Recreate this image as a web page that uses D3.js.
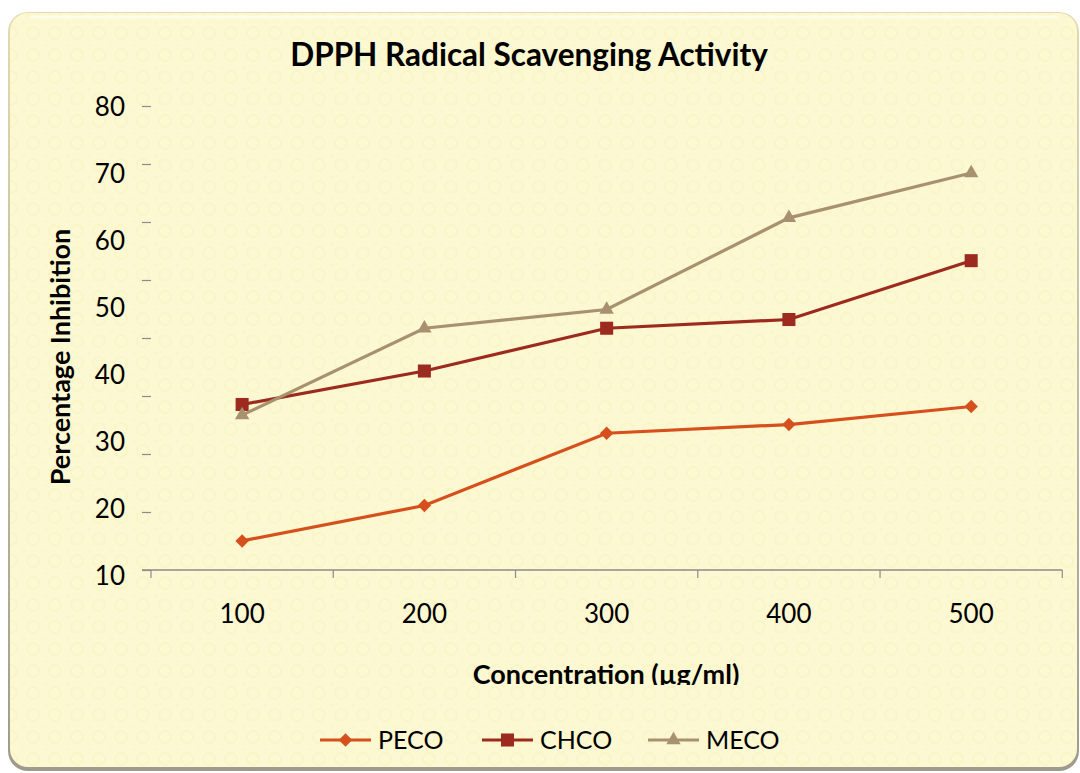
<!DOCTYPE html>
<meta charset="utf-8">
<style>
  body { margin: 0; background: #fff; }
  text { font-family: Lato, "Open Sans", sans-serif; fill: #000; }
  .title { font-size: 31.5px; font-weight: 700; }
  .axis-title { font-size: 27px; font-weight: 700; }
  .tick-label { font-size: 26px; }
  .legend-label { font-size: 25px; }
</style>
<body>
<script src="https://d3js.org/d3.v7.min.js"></script>
<script>

// data
var categories = ["100", "200", "300", "400", "500"];
var peco = [15.2, 20.5, 31.3, 32.6, 35.3];
var chco = [35.6, 40.6, 47.0, 48.3, 57.1];
var meco = [34.0, 47.0, 49.8, 63.5, 70.2];
var yLabels = [10, 20, 30, 40, 50, 60, 70, 80];
var yMarks = [0, 10, 20, 30, 40, 50, 60, 70, 80];
var seriesNames = ["PECO", "CHCO", "MECO"];

var width = 1080,
    height = 773;

var svg = d3.select("body").append("svg")
    .attr("width", width)
    .attr("height", height);

var defs = svg.append("defs");

// faint dotted texture of the chart area
var pat = defs.append("pattern")
    .attr("id", "dots")
    .attr("width", 22).attr("height", 22)
    .attr("patternUnits", "userSpaceOnUse");
pat.append("rect").attr("width", 22).attr("height", 22).attr("fill", "#fcf8d1");
pat.append("circle").attr("cx", 11).attr("cy", 11).attr("r", 6)
    .attr("fill", "none").attr("stroke", "#f6edb6").attr("stroke-width", 2).attr("opacity", 0.3);
pat.append("circle").attr("cx", 0).attr("cy", 0).attr("r", 3).attr("fill", "#f8f0c0").attr("opacity", 0.3);

var edge = defs.append("linearGradient")
    .attr("id", "edge").attr("x1", 0).attr("y1", 0).attr("x2", 0).attr("y2", 1);
edge.append("stop").attr("offset", "0%").attr("stop-color", "#e2dab0");
edge.append("stop").attr("offset", "100%").attr("stop-color", "#9e9b8c");

defs.append("clipPath").attr("id", "xtitle-clip")
  .append("rect").attr("x", 0).attr("y", 0).attr("width", width).attr("height", 685);

// card
svg.append("rect")
    .attr("x", 8).attr("y", 12)
    .attr("width", 1071).attr("height", 759)
    .attr("rx", 20)
    .attr("fill", "url(#edge)");
svg.append("rect")
    .attr("x", 10).attr("y", 13)
    .attr("width", 1067).attr("height", 754)
    .attr("rx", 18)
    .attr("fill", "url(#dots)");
svg.append("line")
    .attr("x1", 30).attr("x2", 1058).attr("y1", 17).attr("y2", 17)
    .attr("stroke", "#fffdf0").attr("stroke-width", 3).attr("opacity", 0.8);

var colors = d3.scaleOrdinal()
    .domain(seriesNames)
    .range(["#d6501d", "#9c2a1f", "#a8916f"]);

var x = d3.scaleBand()
    .domain(categories)
    .range([151, 1062.3]);

// labels and data follow this scale
var y = d3.scaleLinear()
    .domain([10, 80])
    .range([575.7, 107.5]);

// the tick marks sit on a slightly different spacing in the original
var yTick = d3.scaleLinear()
    .domain([0, 80])
    .range([570, 106]);

// title
svg.append("text")
    .attr("class", "title")
    .attr("x", 529).attr("y", 66)
    .attr("text-anchor", "middle")
    .text("DPPH Radical Scavenging Activity");

// y tick marks
var yMarkAxis = svg.append("g")
    .attr("transform", "translate(151,0)")
    .call(d3.axisLeft(yTick).tickValues(yMarks).tickSize(9).tickFormat(""));
yMarkAxis.select(".domain").remove();
yMarkAxis.selectAll("line").attr("stroke", "#8c8c8c").attr("stroke-width", 1.2);

// y labels
var yLabelAxis = svg.append("g")
    .attr("transform", "translate(125,0)")
    .call(d3.axisLeft(y).tickValues(yLabels).tickSize(0).tickPadding(0));
yLabelAxis.select(".domain").remove();
yLabelAxis.selectAll("text")
    .attr("class", "tick-label")
    .attr("fill", "#000")
    .style("font-size", "26px")
    .style("font-family", "Lato, sans-serif");

// x axis
var xAxis = svg.append("g")
    .attr("transform", "translate(0,570)");
xAxis.append("line")
    .attr("x1", 142).attr("x2", x.range()[1])
    .attr("stroke", "#8c8c8c").attr("stroke-width", 1.5);
var bounds = categories.map(function (c) { return x(c); }).concat([x.range()[1]]);
xAxis.selectAll(".xmark")
    .data(bounds)
  .enter().append("line")
    .attr("class", "xmark")
    .attr("x1", function (d) { return d; })
    .attr("x2", function (d) { return d; })
    .attr("y1", 0).attr("y2", 8)
    .attr("stroke", "#8c8c8c").attr("stroke-width", 1.2);
xAxis.selectAll(".xlabel")
    .data(categories)
  .enter().append("text")
    .attr("class", "tick-label")
    .attr("x", function (d) { return x(d) + x.bandwidth() / 2; })
    .attr("y", 53)
    .attr("text-anchor", "middle")
    .text(function (d) { return d; });

// axis titles
svg.append("text")
    .attr("class", "axis-title")
    .attr("clip-path", "url(#xtitle-clip)")
    .attr("x", 606).attr("y", 684)
    .attr("text-anchor", "middle")
    .text("Concentration (\u00b5g/ml)");

svg.append("text")
    .attr("class", "axis-title")
    .attr("transform", "translate(70,357) rotate(-90)")
    .attr("text-anchor", "middle")
    .text("Percentage Inhibition");

// series
var series = [
  { name: "PECO", values: peco, symbol: d3.symbolSquare, size: 90, rot: 45 },
  { name: "CHCO", values: chco, symbol: d3.symbolSquare, size: 170, rot: 0 },
  { name: "MECO", values: meco, symbol: d3.symbolTriangle, size: 90, rot: 0 }
];

var line = d3.line()
    .x(function (d, i) { return x(categories[i]) + x.bandwidth() / 2; })
    .y(function (d) { return y(d); });

series.forEach(function (s) {
  svg.append("path")
      .datum(s.values)
      .attr("d", line)
      .attr("fill", "none")
      .attr("stroke", colors(s.name))
      .attr("stroke-width", 3.2);

  svg.selectAll(".pt-" + s.name)
      .data(s.values)
    .enter().append("path")
      .attr("class", "pt-" + s.name)
      .attr("transform", function (d, i) {
        return "translate(" + (x(categories[i]) + x.bandwidth() / 2) + "," + y(d) + ") rotate(" + s.rot + ")";
      })
      .attr("d", d3.symbol().type(s.symbol).size(s.size))
      .attr("fill", colors(s.name));
});

// legend
var legendX = [320, 482, 648];
var legend = svg.selectAll(".legend")
    .data(series)
  .enter().append("g")
    .attr("class", "legend")
    .attr("transform", function (d, i) { return "translate(" + legendX[i] + ",740)"; });
legend.append("line")
    .attr("x1", 0).attr("x2", 51)
    .attr("stroke", function (d) { return colors(d.name); })
    .attr("stroke-width", 3.2);
legend.append("path")
    .attr("transform", function (d) { return "translate(25.5,0) rotate(" + d.rot + ")"; })
    .attr("d", function (d) { return d3.symbol().type(d.symbol).size(d.size)(); })
    .attr("fill", function (d) { return colors(d.name); });
legend.append("text")
    .attr("class", "legend-label")
    .attr("x", 58).attr("y", 9)
    .text(function (d) { return d.name; });

</script>
